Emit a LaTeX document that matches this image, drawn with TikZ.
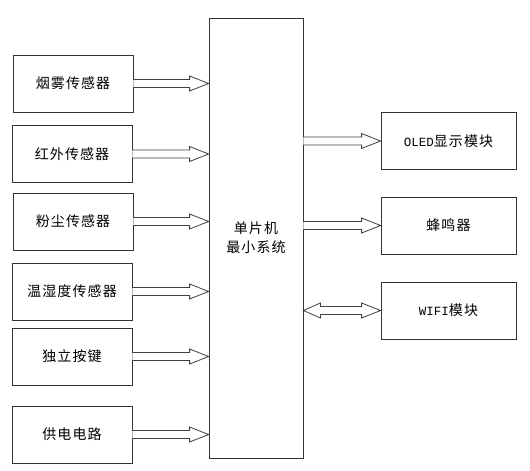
\documentclass[tikz,border=0pt]{standalone}
\usepackage{fontspec}
\usetikzlibrary{calc}
\newfontfamily\cjk[LetterSpace=8]{Noto Sans CJK SC}
\newfontfamily\lat{Liberation Mono}
\newcommand\rarrow[2]{\draw[arr] let \p1=#1, \p2=#2 in
  (\x1,\y1+4pt) -- (\x2-19pt,\y1+4pt) -- (\x2-19pt,\y1+7.5pt) -- (\x2,\y1)
  -- (\x2-19pt,\y1-7.5pt) -- (\x2-19pt,\y1-4pt) -- (\x1,\y1-4pt);}
\newcommand\darrow[2]{\draw[arr] let \p1=#1, \p2=#2 in
  (\x1,\y1) -- (\x1+17pt,\y1+7.5pt) -- (\x1+17pt,\y1+4pt) -- (\x2-19pt,\y1+4pt)
  -- (\x2-19pt,\y1+7.5pt) -- (\x2,\y1) -- (\x2-19pt,\y1-7.5pt) -- (\x2-19pt,\y1-4pt)
  -- (\x1+17pt,\y1-4pt) -- (\x1+17pt,\y1-7.5pt) -- cycle;}
\tikzset{
  box/.style={draw=black!80, line width=0.8pt, fill=white, inner sep=0pt,
    font=\fontsize{14pt}{19pt}\selectfont\cjk, align=center},
  lbox/.style={box, minimum width=120pt, minimum height=57pt},
  rbox/.style={box, minimum width=135pt, minimum height=57pt},
  arr/.style={draw=black!75, line width=0.8pt, fill=white}
}
\begin{document}
\begin{tikzpicture}[x=1pt,y=-1pt]
\useasboundingbox[fill=white] (0,0) rectangle (530,471);
\node[box, minimum width=94pt, minimum height=440pt] (mcu) at (256,238) {单片机\\最小系统};
\node[lbox] (b1) at (73,83.5) {烟雾传感器};
\node[lbox] (b2) at (72,154) {红外传感器};
\node[lbox] (b3) at (73,221.5) {粉尘传感器};
\node[lbox] (b4) at (72,291.5) {温湿度传感器};
\node[lbox] (b5) at (72,356.5) {独立按键};
\node[lbox] (b6) at (72,434.5) {供电电路};
\node[rbox] (r1) at (448.5,141) {{\lat\fontsize{12.5pt}{15pt}\selectfont OLED}显示模块};
\node[rbox] (r2) at (448.5,225.5) {蜂鸣器};
\node[rbox] (r3) at (448.5,310.5) {{\lat\fontsize{12.5pt}{15pt}\selectfont WIFI}模块};
\foreach \b in {b1,b2,b3,b4,b5,b6}{\rarrow{(\b.east)}{(mcu.west |- \b.east)}}
\rarrow{(mcu.east |- r1.west)}{(r1.west)}
\rarrow{(mcu.east |- r2.west)}{(r2.west)}
\darrow{(mcu.east |- r3.west)}{(r3.west)}
\end{tikzpicture}
\end{document}
